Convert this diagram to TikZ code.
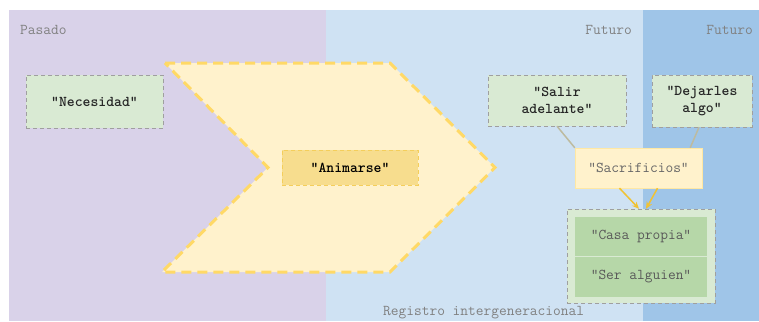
\documentclass[tikz,border=0pt]{standalone}
\usepackage{fontspec}
\usetikzlibrary{arrows.meta}
\definecolor{pastpurple}{HTML}{D9D2E9}
\definecolor{futblue}{HTML}{CFE2F3}
\definecolor{futdarkblue}{HTML}{9FC5E8}
\definecolor{chevfill}{HTML}{FFF2CC}
\definecolor{chevline}{HTML}{FFD966}
\definecolor{gold}{HTML}{F1C232}
\definecolor{ideagreen}{HTML}{D9EAD3}
\definecolor{goalgreen}{HTML}{B6D7A8}
\definecolor{linkgray}{HTML}{BDBBA0}

\begin{document}
\begin{tikzpicture}[x=1pt,y=-1pt,
    every node/.style={font=\fontsize{15}{17}\selectfont\ttfamily, align=center, inner sep=0pt},
    idea/.style={draw=gray!75, dashed, dash pattern=on 4pt off 3pt, fill=ideagreen, font=\fontsize{15}{17}\selectfont\ttfamily\bfseries, text=black!85},
    goal/.style={fill=goalgreen, text=black!65, minimum width=132pt},
    tag/.style={text=black!50}]
    \useasboundingbox (0,0) rectangle (759,321);
    \fill[white] (0,0) rectangle (759,321);

    % time bands
    \fill[pastpurple] (9,10) rectangle (326,321);
    \fill[futblue] (326,10) rectangle (643,321);
    \fill[futdarkblue] (643,10) rectangle (759,321);
    \node[tag, anchor=west] (pasado) at (20,30) {Pasado};
    \node[tag, anchor=east] (futuro) at (632,30) {Futuro};
    \node[tag, anchor=east] (futuro2) at (753,30) {Futuro};
    \node[tag, anchor=west] (registro) at (383,313) {Registro intergeneracional};

    % big chevron
    \draw[fill=chevfill, draw=chevline, line width=3pt, dash pattern=on 10pt off 6pt]
        (165,63) -- (390,63) -- (495,167.5) -- (390,272) -- (162,272) -- (268,167.5) -- cycle;
    \node[fill=gold!55, draw=gold!80, dashed, dash pattern=on 4pt off 3pt,
          minimum width=136pt, minimum height=35pt,
          font=\fontsize{15}{17}\selectfont\ttfamily\bfseries] (anim) at (350,167.5) {“Animarse”};

    \node[idea, minimum width=137pt, minimum height=53pt] (nec) at (94.5,101.5) {“Necesidad”};
    \node[idea, minimum width=138pt, minimum height=51pt] (salir) at (557,100.5) {“Salir\\adelante”};
    \node[idea, minimum width=100pt, minimum height=52pt] (dejar) at (702,101) {“Dejarles\\algo”};

    \node[fill=chevfill, draw=chevline!60, minimum width=127pt, minimum height=40pt, text=black!60] (sacr) at (638.5,168) {“Sacrificios”};

    % goals
    \node[draw=gray!75, dashed, dash pattern=on 4pt off 3pt, fill=ideagreen,
          minimum width=148pt, minimum height=94pt] (grp) at (641,256) {};
    \node[goal, minimum height=39pt] (casa) at (641,236.5) {“Casa propia”};
    \node[goal, minimum height=40pt] (ser) at (641,277) {“Ser alguien”};

    \draw[linkgray, line width=1.5pt] (salir.south) -- (sacr.north west);
    \draw[linkgray, line width=1.5pt] ([xshift=-3pt]dejar.south) -- ([xshift=-12pt]sacr.north east);
    \draw[gold, line width=1.5pt, -{Stealth[length=7pt,width=6pt]}] ([xshift=-19pt]sacr.south) -- ([xshift=-2pt]grp.north);
    \draw[gold, line width=1.5pt, -{Stealth[length=7pt,width=6pt]}] ([xshift=19pt]sacr.south) -- ([xshift=5pt]grp.north);
\end{tikzpicture}
\end{document}
